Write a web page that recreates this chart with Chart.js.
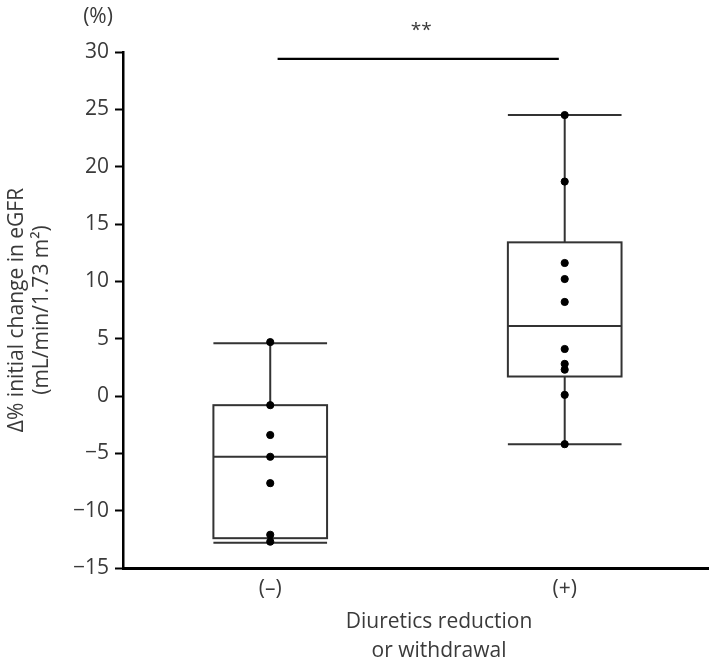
<!DOCTYPE html>
<html>
<head>
<meta charset="utf-8">
<script src="https://cdn.jsdelivr.net/npm/chart.js@4.4.1/dist/chart.umd.min.js"></script>
<style>
  html, body { margin: 0; padding: 0; background: #fff; }
  #wrap { width: 709px; height: 664px; }
</style>
</head>
<body>
<div id="wrap"><canvas id="chart"></canvas></div>
<script>
// categories and per-group values
const categories = ['(–)', '(+)'];
const minusPoints = [4.7, -0.8, -3.4, -5.3, -7.6, -12.1, -12.7];
const plusPoints = [24.5, 18.7, 11.6, 10.2, 8.2, 4.1, 2.8, 2.3, 0.1, -4.2];
const boxMin = [-12.8, -4.2];
const boxQ1 = [-12.4, 1.7];
const boxMedian = [-5.3, 6.1];
const boxQ3 = [-0.8, 13.4];
const boxMax = [4.6, 24.5];
const yTicks = [-15, -10, -5, 0, 5, 10, 15, 20, 25, 30];
const sigRange = [0.025, 0.98];
const sigLevel = 29.4;
const sigLabel = '**';

const FONT = "'Open Sans', 'Noto Sans', sans-serif";
const TEXT = '#3a3a3a';
const BOX_HALF = 0.193;

const boxPlugin = {
  id: 'boxes',
  beforeDatasetsDraw(chart) {
    const { ctx } = chart;
    const xs = chart.scales.x;
    const ys = chart.scales.y;
    ctx.save();
    ctx.strokeStyle = '#333';
    ctx.lineWidth = 2;
    categories.forEach((_, i) => {
      const cx = xs.getPixelForValue(i);
      const l = xs.getPixelForValue(i - BOX_HALF);
      const r = xs.getPixelForValue(i + BOX_HALF);
      const yMin = ys.getPixelForValue(boxMin[i]);
      const yQ1 = ys.getPixelForValue(boxQ1[i]);
      const yMed = ys.getPixelForValue(boxMedian[i]);
      const yQ3 = ys.getPixelForValue(boxQ3[i]);
      const yMax = ys.getPixelForValue(boxMax[i]);
      ctx.beginPath();
      // whiskers
      ctx.moveTo(cx, yQ3); ctx.lineTo(cx, yMax);
      ctx.moveTo(l, yMax); ctx.lineTo(r, yMax);
      ctx.moveTo(cx, yQ1); ctx.lineTo(cx, yMin);
      ctx.moveTo(l, yMin); ctx.lineTo(r, yMin);
      // median
      ctx.moveTo(l, yMed); ctx.lineTo(r, yMed);
      ctx.stroke();
      ctx.strokeRect(l, yQ3, r - l, yQ1 - yQ3);
    });
    ctx.restore();
  },
  afterDraw(chart) {
    const { ctx, chartArea } = chart;
    const xs = chart.scales.x;
    ctx.save();
    ctx.fillStyle = TEXT;
    ctx.textAlign = 'center';
    ctx.textBaseline = 'middle';
    ctx.font = `21px ${FONT}`;
    ctx.fillText('(%)', 98, 17);
    ctx.font = `19px ${FONT}`;
    ctx.fillText(sigLabel, xs.getPixelForValue((sigRange[0] + sigRange[1]) / 2) + 3, 31);
    ctx.font = `21px ${FONT}`;
    const tx = (chartArea.left + chartArea.right) / 2 + 23;
    ctx.fillText('Diuretics reduction', tx, 622);
    ctx.fillText('or withdrawal', tx, 651);
    ctx.restore();
  }
};

const groupData = [minusPoints, plusPoints]
  .flatMap((vals, i) => vals.map((v) => ({ x: i, y: v })));

new Chart(document.getElementById('chart'), {
  type: 'scatter',
  data: {
    datasets: [
      {
        label: 'values',
        data: groupData,
        backgroundColor: '#000',
        borderColor: '#000',
        pointRadius: 3.6,
        pointHoverRadius: 3.6,
      },
      {
        type: 'line',
        label: 'sig',
        data: [{ x: sigRange[0], y: sigLevel }, { x: sigRange[1], y: sigLevel }],
        borderColor: '#000',
        borderWidth: 2.2,
        pointRadius: 0,
        fill: false,
      },
    ],
  },
  options: {
    responsive: true,
    maintainAspectRatio: false,
    animation: false,
    layout: { autoPadding: false, padding: { top: 52, right: 0, left: 0, bottom: 0 } },
    plugins: { legend: { display: false }, tooltip: { enabled: false } },
    scales: {
      x: {
        type: 'linear',
        min: -0.5,
        max: 1.49,
        afterBuildTicks: (s) => { s.ticks = [{ value: 0 }, { value: 1 }]; },
        afterFit: (s) => { s.height = 96; },
        ticks: {
          callback: (v) => categories[v],
          color: TEXT,
          font: { family: FONT, size: 21 },
          padding: 8,
          maxRotation: 0,
        },
        grid: { display: false, drawTicks: false },
        border: { color: '#000', width: 3 },
      },
      y: {
        min: -15,
        max: 30,
        afterBuildTicks: (s) => { s.ticks = yTicks.map((v) => ({ value: v })); },
        afterFit: (s) => { s.width = 123; },
        ticks: {
          color: TEXT,
          font: { family: FONT, size: 21 },
          padding: 6,
          callback: (v) => (v < 0 ? '\u2212' + Math.abs(v) : String(v)),
        },
        grid: { drawOnChartArea: false, drawTicks: true, tickLength: 8, color: '#000', tickWidth: 2 },
        border: { color: '#000', width: 2.5 },
        title: {
          display: true,
          text: ['\u0394% initial change in eGFR', '(mL/min/1.73 m\u00b2)'],
          color: TEXT,
          font: { family: FONT, size: 21 },
          padding: { top: 4, bottom: 0 },
        },
      },
    },
  },
  plugins: [boxPlugin],
});
</script>
</body>
</html>
